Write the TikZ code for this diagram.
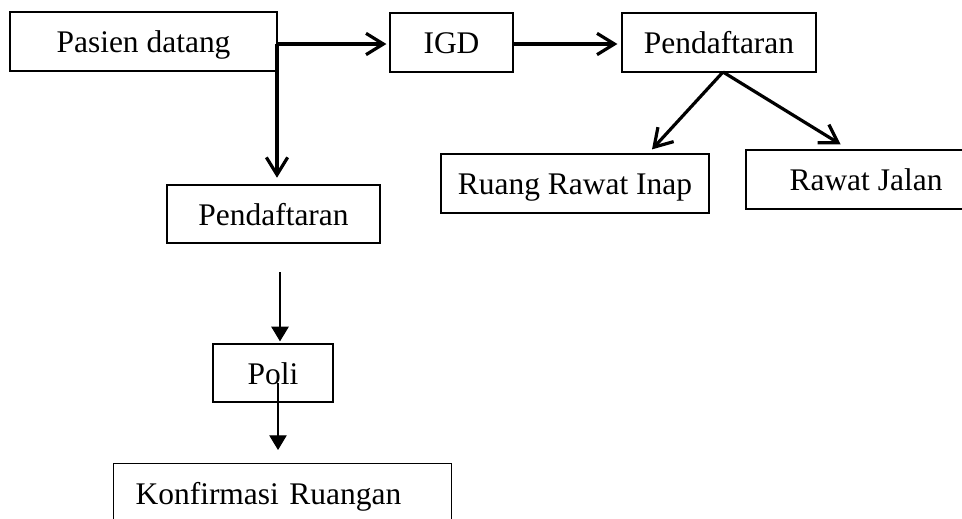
\documentclass[tikz,border=0pt]{standalone}
\usepackage{fontspec}
\setmainfont{Liberation Serif}
\usetikzlibrary{arrows.meta,calc}
\begin{document}
\begin{tikzpicture}[x=0.75pt,y=-0.75pt,
  box/.style={draw=black,line width=0.9pt,inner sep=0pt,text height=16.5pt,text depth=0pt,
    font=\fontsize{23.6pt}{28pt}\selectfont,minimum height=44.25pt},
  thickarrow/.style={line width=2.4pt,-{Straight Barb[length=13pt,width=16pt,line width=2.4pt]}},
  thinarrow/.style={line width=0.9pt,-{Triangle[length=11pt,width=13pt]}}]
\useasboundingbox (0,0) rectangle (962,518);
\clip (0,0) rectangle (962,518);
\fill[white] (0,0) rectangle (962,518);
% nodes
\node[box,minimum width=200.25pt] (pasien) at (143.5,41.5) {Pasien datang};
\node[box,minimum width=92.25pt] (igd) at (451.5,42.5) {IGD};
\node[box,minimum width=145.5pt] (pend1) at (719,42.5) {Pendaftaran};
\node[box,minimum width=201pt] (inap) at (575,183.5) {Ruang Rawat Inap};
\node[box,minimum width=180pt] (jalan) at (866,179.5) {Rawat Jalan};
\node[box,minimum width=159.75pt,minimum height=43.5pt] (pend2) at (273.5,214) {Pendaftaran};
\node[box,minimum width=90pt,minimum height=43.5pt] (poli) at (273,373) {Poli};
\node[box,anchor=north west,inner xsep=16.5pt,text width=220.5pt,align=left] (konf) at (113,463) {Konfirmasi Ruangan};
% connectors
\coordinate (j) at (277,44);
\coordinate (s) at (723,72);
\coordinate (c1) at (280,272);
\coordinate (c2) at (278,383);
\draw[line width=2.4pt] (j) -- (pasien.east |- j);
\draw[thickarrow,shorten >=2.25pt] (j) -- (igd.west |- j);
\draw[thickarrow,shorten >=5pt] (j) -- (j |- pend2.north);
\draw[thickarrow,shorten >=3pt] (igd.east |- j) -- (pend1.west |- j);
\draw[thickarrow] (s) -- ([xshift=57.75pt,yshift=3pt]inap.north);
\draw[thickarrow] (s) -- ([xshift=-19pt,yshift=3.75pt]jalan.north);
\draw[thinarrow,shorten >=1.5pt] (c1) -- (c1 |- poli.north);
\draw[thinarrow,shorten >=9.75pt] (c2) -- (c2 |- konf.north);
\end{tikzpicture}
\end{document}
